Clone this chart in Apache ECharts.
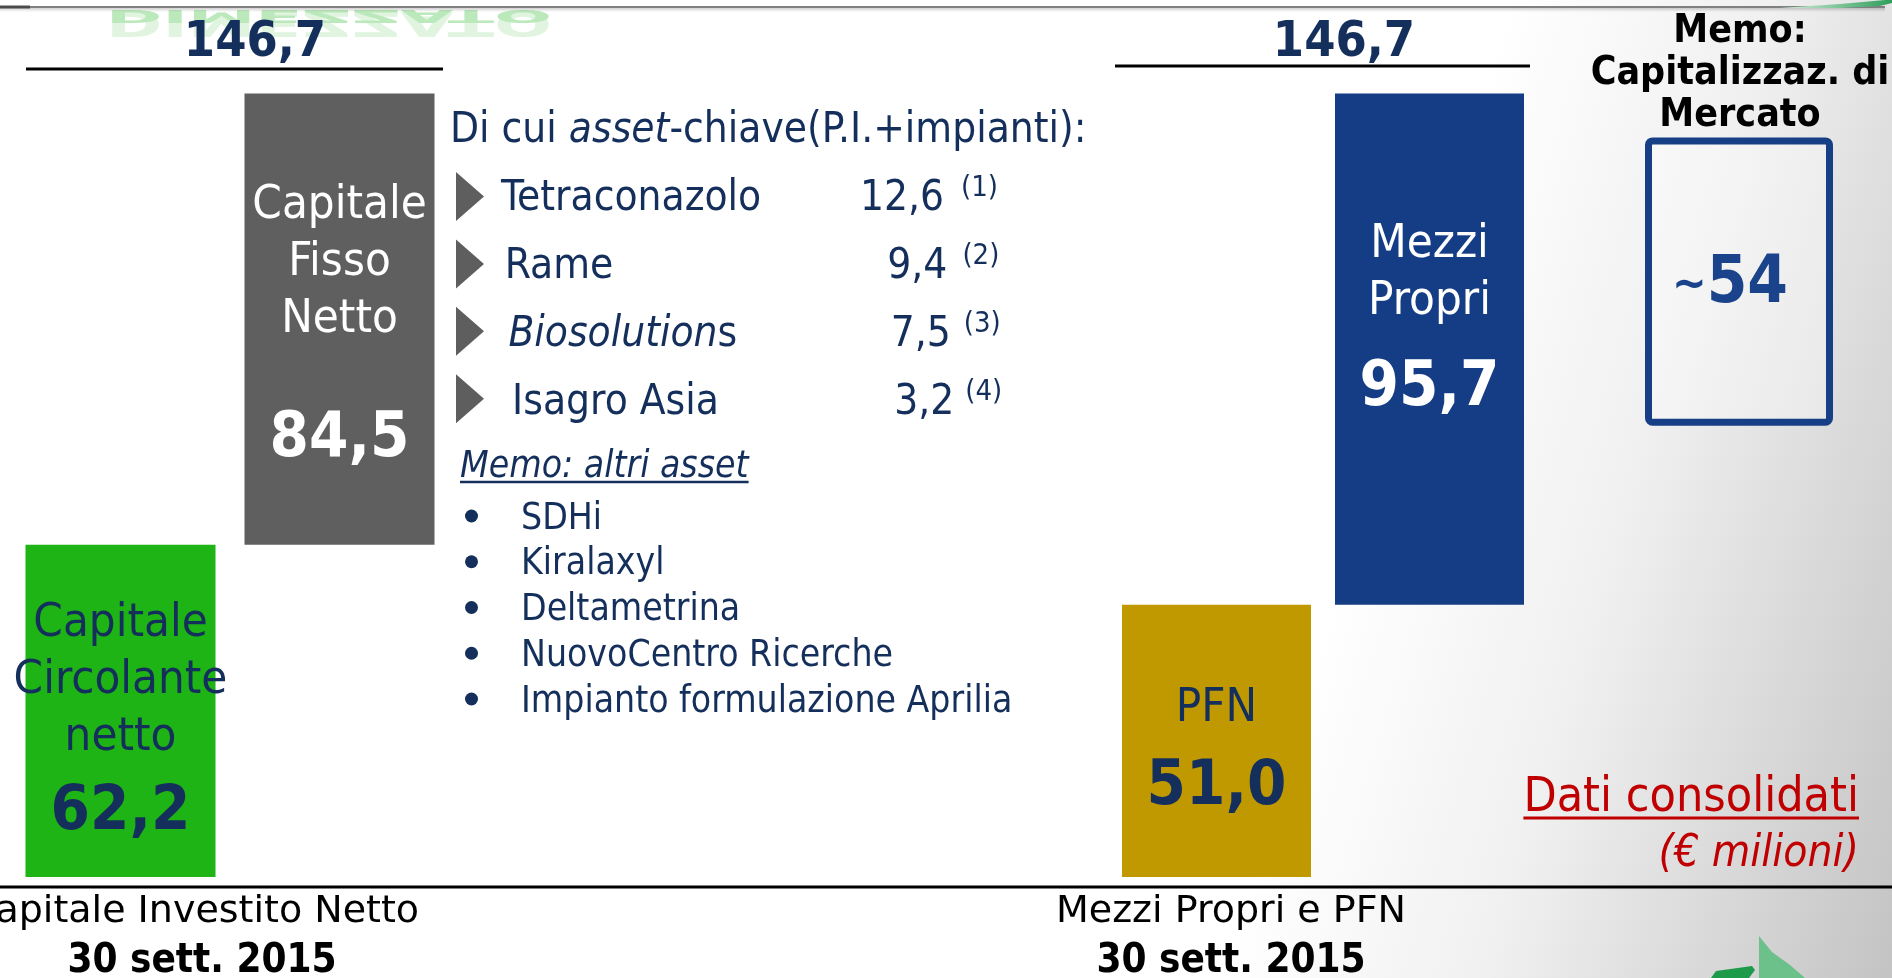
<!DOCTYPE html>
<html>
<head>
<meta charset="utf-8">
<script src="https://cdn.jsdelivr.net/npm/echarts@6/dist/echarts.min.js"></script>
<style>
html, body { margin: 0; padding: 0; background: #fff; }
#main { width: 1892px; height: 978px; }
</style>
</head>
<body>
<div id="main"></div>
<script>
// ---- dati (€ milioni) ----
var leftNames = ['Capitale Circolante netto', 'Capitale Fisso Netto'];
var leftValues = [62.2, 84.5];
var rightNames = ['PFN', 'Mezzi Propri'];
var rightValues = [51.0, 95.7];
var memoNames = ['Capitalizzaz. di Mercato'];
var memoValues = [54];
var assetNames = ['Tetraconazolo', 'Rame', 'Biosolutions', 'Isagro Asia'];
var assetValues = [12.6, 9.4, 7.5, 3.2];
var assetNotes = ['(1)', '(2)', '(3)', '(4)'];
var otherAssets = ['SDHi', 'Kiralaxyl', 'Deltametrina', 'NuovoCentro Ricerche', 'Impianto formulazione Aprilia'];
var panelTitles = ['Capitale Investito Netto', 'Mezzi Propri e PFN'];
var panelDates = ['30 sett. 2015', '30 sett. 2015'];

// ---- stile ----
var FC = '"DejaVu Sans Condensed", "DejaVu Sans", sans-serif';
var FR = '"DejaVu Sans", sans-serif';
var navy = '#142f5b';
var leftColors = ['#1fb415', '#5f5f5f'];
var leftText = [navy, '#ffffff'];
var rightColors = ['#c09900', '#143d85'];
var rightText = [navy, '#ffffff'];
var leftValueLine = [93, 182];   // altezza riga del valore
var leftOffset = [16, 35];
var rightValueLine = [101, 115];
var rightOffset = [18, -18];
var memoBase = 84.5;              // il box memo "galleggia"
var assetItalic = [0, 0, 11, 0];  // caratteri in corsivo

function fmt(v) { return v.toFixed(1).replace('.', ','); }

function textWidth(str, font) {
	var ctx = document.createElement('canvas').getContext('2d');
	ctx.font = font;
	return ctx.measureText(str).width;
}

function barLabel(color, valueLine, offsetY) {
	return {
		offset: [0, offsetY],
		rich: {
			n: { fontFamily: FC, fontSize: 47, lineHeight: 57, color: color },
			v: { fontFamily: FC, fontSize: 63, fontWeight: 'bold', lineHeight: valueLine, color: color }
		}
	};
}

var seriesLabel = {
	show: true,
	position: 'inside',
	textBorderWidth: 0,
	formatter: function (p) {
		var lines = p.name.split(' ').map(function (w) { return '{n|' + w + '}'; });
		return lines.join('\n') + '\n{v|' + fmt(p.value) + '}';
	}
};

var leftBase = [0, leftValues[0]];
var rightBase = [0, rightValues[0]];
var leftTotal = leftValues[0] + leftValues[1];
var rightTotal = rightValues[0] + rightValues[1];

// ---- elementi grafici (testi) ----
var g = [];
// titolo verde tagliato e suo riflesso
g.push({ type: 'text', x: 106, y: 0, style: { text: 'DIMEZZATO', x: 0, y: -18.5, font: 'bold 68px ' + FR, fill: '#2cc22c', verticalAlign: 'middle' } });
g.push({ type: 'text', x: 106, y: 9, scaleY: -0.5, style: { text: 'DIMEZZATO', x: 0, y: -23.5, font: 'bold 68px ' + FR, fill: '#e0f4e0', verticalAlign: 'middle' } });
g.push({ type: 'text', x: 106, y: 9, scaleY: -0.25, style: { text: 'DIMEZZATO', x: 0, y: -23.5, font: 'bold 68px ' + FR, fill: '#bce9bc', verticalAlign: 'middle' } });
// riga in alto
g.push({ type: 'rect', shape: { x: 0, y: 8, width: 1885, height: 4 },
	style: { fill: new echarts.graphic.LinearGradient(0, 0, 0, 1, [
		{ offset: 0, color: 'rgba(0,0,0,0.18)' }, { offset: 1, color: 'rgba(0,0,0,0)' }]) } });
g.push({ type: 'line', shape: { x1: 0, y1: 7, x2: 1885, y2: 7 }, style: { stroke: '#808080', lineWidth: 2 } });
g.push({ type: 'line', shape: { x1: 0, y1: 7, x2: 30, y2: 7 }, style: { stroke: '#4a4a4a', lineWidth: 3 } });
g.push({ type: 'polygon', shape: { points: [[1780, 8], [1840, 4], [1885, 0], [1892, 0], [1892, 3], [1880, 6], [1840, 8]] },
	style: { fill: new echarts.graphic.LinearGradient(0, 0, 1, 0, [
		{ offset: 0, color: '#d7efdc' }, { offset: 1, color: '#2e9e5b' }]) } });

// totali
g.push({ type: 'text', x: 255, y: 43, style: { text: fmt(leftTotal), font: 'bold 50px ' + FC, fill: navy, align: 'center', verticalAlign: 'middle' } });
g.push({ type: 'text', x: 1344, y: 43, style: { text: fmt(rightTotal), font: 'bold 50px ' + FC, fill: navy, align: 'center', verticalAlign: 'middle' } });
g.push({ type: 'line', shape: { x1: 26, y1: 69, x2: 443, y2: 69 }, style: { stroke: '#000', lineWidth: 3 } });
g.push({ type: 'line', shape: { x1: 1115, y1: 66, x2: 1530, y2: 66 }, style: { stroke: '#000', lineWidth: 3 } });

// memo capitalizzazione
g.push({ type: 'text', x: 1740, y: 10.5, style: { text: 'Memo:\n' + memoNames[0].replace(' di ', ' di\n'), font: 'bold 39px ' + FC, lineHeight: 42, fill: '#000', align: 'center', verticalAlign: 'top' } });

// asset-chiave
var richList = {
	n: { fontFamily: FC, fontSize: 42, fill: navy, color: navy },
	i: { fontFamily: FC, fontSize: 42, fontStyle: 'italic', fill: navy, color: navy }
};
g.push({ type: 'text', x: 450, y: 131, style: { text: '{n|Di cui }{i|asset}{n|-chiave(P.I.+impianti):}', rich: richList, verticalAlign: 'middle' } });
for (var i = 0; i < assetNames.length; i++) {
	var y = 199 + 68 * i;
	var ty = 196.5 + 67.4 * i;
	var nm = assetNames[i], k = assetItalic[i];
	var txt = (k ? '{i|' + nm.slice(0, k) + '}' : '') + (nm.slice(k) ? '{n|' + nm.slice(k) + '}' : '');
	g.push({ type: 'polygon', shape: { points: [[456, ty - 24.5], [484, ty], [456, ty + 24.5]] }, style: { fill: '#5e5e5e' } });
	g.push({ type: 'text', x: 501 + 3.7 * i, y: y, style: { text: txt, rich: richList, verticalAlign: 'middle' } });
	g.push({ type: 'text', x: 944 + 3.4 * i, y: y, style: { text: fmt(assetValues[i]), font: '42px ' + FC, fill: navy, align: 'right', verticalAlign: 'middle' } });
	g.push({ type: 'text', x: 961 + 1.4 * i, y: y - 11, style: { text: assetNotes[i], font: '29px ' + FC, fill: navy, verticalAlign: 'middle' } });
}
var memoFont = 'italic 37px ' + FC;
g.push({ type: 'text', x: 460, y: 467, style: { text: 'Memo: altri asset', font: memoFont, fill: navy, verticalAlign: 'middle' } });
g.push({ type: 'line', shape: { x1: 460, y1: 482, x2: 460 + textWidth('Memo: altri asset', memoFont), y2: 482 }, style: { stroke: navy, lineWidth: 2.5 } });
for (var j = 0; j < otherAssets.length; j++) {
	var yb = 516 + 45.75 * j;
	g.push({ type: 'circle', shape: { cx: 471.5, cy: yb, r: 6.5 }, style: { fill: navy } });
	g.push({ type: 'text', x: 521, y: yb + 3, style: { text: otherAssets[j], font: '37px ' + FC, fill: navy, verticalAlign: 'middle' } });
}

// dati consolidati
var redFont = '48px ' + FC;
g.push({ type: 'text', x: 1859, y: 799, style: { text: 'Dati consolidati', font: redFont, fill: '#c00000', align: 'right', verticalAlign: 'middle' } });
g.push({ type: 'line', shape: { x1: 1859 - textWidth('Dati consolidati', redFont), y1: 818, x2: 1859, y2: 818 }, style: { stroke: '#c00000', lineWidth: 3 } });
g.push({ type: 'text', x: 1859, y: 855, style: { text: '(€ milioni)', font: 'italic 44px ' + FC, fill: '#c00000', align: 'right', verticalAlign: 'middle' } });

// base e titoli dei pannelli
g.push({ type: 'line', shape: { x1: 0, y1: 887, x2: 1892, y2: 887 }, style: { stroke: '#000', lineWidth: 3 } });
var panelX = [[194, 202], [1231, 1231]];
for (var p = 0; p < panelTitles.length; p++) {
	g.push({ type: 'text', x: panelX[p][0], y: 912, style: { text: panelTitles[p], font: '38px ' + FR, fill: '#000', align: 'center', verticalAlign: 'middle' } });
	g.push({ type: 'text', x: panelX[p][1], y: 962, style: { text: panelDates[p], font: 'bold 40px ' + FC, fill: '#000', align: 'center', verticalAlign: 'middle' } });
}
// logo in basso a destra
g.push({ type: 'polygon', shape: { points: [[1759, 936], [1772, 952], [1790, 965], [1805, 978], [1759, 978]] }, style: { fill: '#6cc18b' } });
g.push({ type: 'polygon', shape: { points: [[1711, 978], [1716, 971], [1752, 966], [1755, 970], [1749, 978]] }, style: { fill: '#1e9a4b' } });

// ---- grafico ----
var chart = echarts.init(document.getElementById('main'));
var yAxisOpt = { type: 'value', min: 0, max: 150, show: false };
chart.setOption({
	animation: false,
	backgroundColor: new echarts.graphic.LinearGradient(0.797, 0, 1.121, 0.184, [
		{ offset: 0, color: '#ffffff' }, { offset: 0.4, color: '#f0f0f0' }, { offset: 1, color: '#c4c4c4' }]),
	graphic: { elements: g },
	grid: [
		{ left: 11, width: 438, top: 76, bottom: 101 },
		{ left: 1110, width: 426, top: 76, bottom: 101 },
		{ left: 1634, width: 210, top: 76, bottom: 101 }
	],
	xAxis: [
		{ type: 'category', gridIndex: 0, data: leftNames, show: false },
		{ type: 'category', gridIndex: 1, data: rightNames, show: false },
		{ type: 'category', gridIndex: 2, data: memoNames, show: false }
	],
	yAxis: [
		Object.assign({ gridIndex: 0 }, yAxisOpt),
		Object.assign({ gridIndex: 1 }, yAxisOpt),
		Object.assign({ gridIndex: 2 }, yAxisOpt)
	],
	series: [
		{ type: 'bar', xAxisIndex: 0, yAxisIndex: 0, stack: 'sx', silent: true, barWidth: 190,
			itemStyle: { color: 'rgba(0,0,0,0)' }, data: leftBase },
		{ type: 'bar', xAxisIndex: 0, yAxisIndex: 0, stack: 'sx', barWidth: 190, emphasis: { disabled: true },
			label: seriesLabel,
			data: leftValues.map(function (v, i) {
				return { value: v, itemStyle: { color: leftColors[i] }, label: barLabel(leftText[i], leftValueLine[i], leftOffset[i]) };
			}) },
		{ type: 'bar', xAxisIndex: 1, yAxisIndex: 1, stack: 'dx', silent: true, barWidth: 189,
			itemStyle: { color: 'rgba(0,0,0,0)' }, data: rightBase },
		{ type: 'bar', xAxisIndex: 1, yAxisIndex: 1, stack: 'dx', barWidth: 189, emphasis: { disabled: true },
			label: seriesLabel,
			data: rightValues.map(function (v, i) {
				return { value: v, itemStyle: { color: rightColors[i] }, label: barLabel(rightText[i], rightValueLine[i], rightOffset[i]) };
			}) },
		{ type: 'bar', xAxisIndex: 2, yAxisIndex: 2, stack: 'memo', silent: true, barWidth: 188,
			itemStyle: { color: 'rgba(0,0,0,0)' }, data: [memoBase] },
		{ type: 'bar', xAxisIndex: 2, yAxisIndex: 2, stack: 'memo', barWidth: 188, emphasis: { disabled: true },
			itemStyle: { color: 'rgba(255,255,255,0.35)', borderColor: '#163f86', borderWidth: 7, borderRadius: 4 },
			label: {
				show: true, position: 'inside', textBorderWidth: 0, offset: [-9, 4],
				formatter: function (p) { return '{t|~}{d|' + p.value + '}'; },
				rich: {
					t: { fontFamily: FC, fontSize: 46, fontWeight: 'bold', color: '#1a438b' },
					d: { fontFamily: FC, fontSize: 65, fontWeight: 'bold', color: '#1a438b' }
				}
			},
			data: memoValues }
	]
});
</script>
</body>
</html>
